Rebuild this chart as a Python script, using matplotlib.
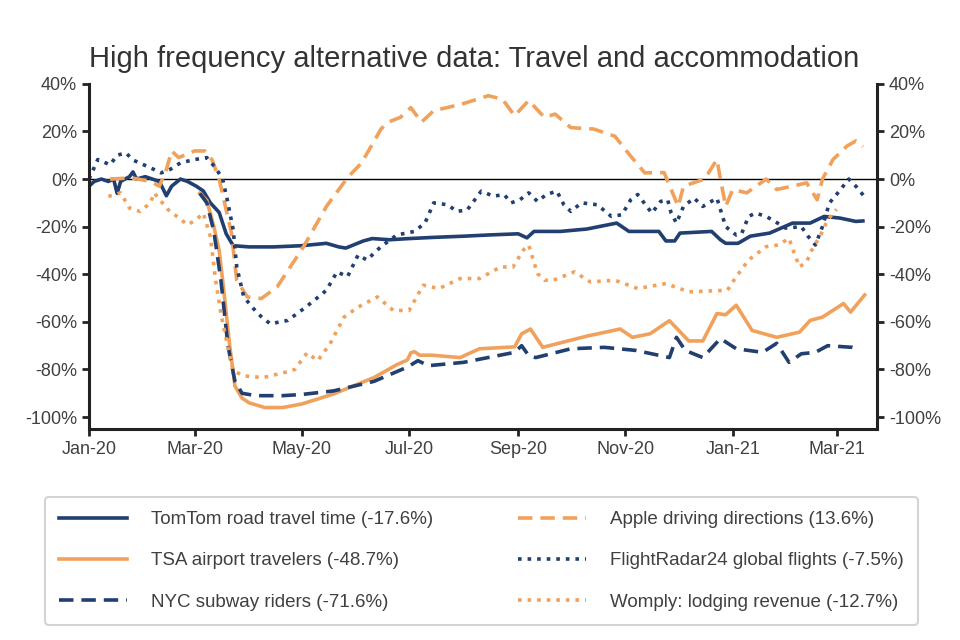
import pandas as pd
import matplotlib
matplotlib.use('Agg')
import matplotlib.pyplot as plt
import matplotlib.dates as mdates
from matplotlib.ticker import FuncFormatter

plt.rcParams['font.family'] = ['Liberation Sans Narrow', 'Liberation Sans', 'DejaVu Sans']

NAVY = '#213f70'
ORANGE = '#f0a25c'
TXT = '#404040'

########################################    Data    #############################################
tomtom_dates = ['2020-01-01', '2020-01-04', '2020-01-08', '2020-01-12', '2020-01-15', '2020-01-17',
                '2020-01-19', '2020-01-24', '2020-01-26', '2020-01-28', '2020-02-02', '2020-02-06',
                '2020-02-10', '2020-02-14', '2020-02-17', '2020-02-22', '2020-02-26', '2020-03-02',
                '2020-03-06', '2020-03-10', '2020-03-15', '2020-03-19', '2020-03-23', '2020-04-01',
                '2020-04-15', '2020-05-01', '2020-05-15', '2020-05-22', '2020-05-26', '2020-06-05',
                '2020-06-10', '2020-06-20', '2020-07-01', '2020-07-15', '2020-08-01', '2020-08-15',
                '2020-09-01', '2020-09-06', '2020-09-10', '2020-09-25', '2020-10-10', '2020-10-27',
                '2020-11-03', '2020-11-20', '2020-11-24', '2020-11-29', '2020-12-02', '2020-12-20',
                '2020-12-25', '2020-12-28', '2021-01-04', '2021-01-11', '2021-01-22', '2021-02-04',
                '2021-02-14', '2021-02-22', '2021-03-03', '2021-03-12', '2021-03-16']
tomtom_vals = [-3, -1, 0, -1, 0, -6,
               -1, 1, 3, 0, 1, 0,
               -1, -7, -3, 0, -1, -3,
               -5, -10, -14, -23, -28, -28.5,
               -28.5, -28, -27, -28.5, -29, -26,
               -25, -25.5, -25, -24.5, -24, -23.5,
               -23, -24.7, -22, -22, -21, -18.5,
               -22, -22, -26, -26, -22.7, -22,
               -25.5, -27, -27, -24, -22.7, -18.5,
               -18.5, -15.7, -16.4, -17.8, -17.6]

tsa_dates = ['2020-03-04', '2020-03-08', '2020-03-12', '2020-03-15', '2020-03-17', '2020-03-21',
             '2020-03-24', '2020-03-28', '2020-04-01', '2020-04-10', '2020-04-20', '2020-05-01',
             '2020-05-19', '2020-06-11', '2020-06-24', '2020-06-30', '2020-07-02', '2020-07-04',
             '2020-07-07', '2020-07-14', '2020-07-30', '2020-08-10', '2020-08-30', '2020-09-03',
             '2020-09-08', '2020-09-15', '2020-10-10', '2020-10-29', '2020-11-05', '2020-11-15',
             '2020-11-26', '2020-12-07', '2020-12-15', '2020-12-23', '2020-12-28', '2021-01-03',
             '2021-01-12', '2021-01-26', '2021-02-08', '2021-02-14', '2021-02-21', '2021-03-05',
             '2021-03-09', '2021-03-17']
tsa_vals = [-6, -9, -20, -30, -42.5, -70,
            -87, -92, -94, -96, -96, -94.5,
            -90.3, -83.4, -78, -76, -73, -72.5,
            -74, -74, -75, -71.3, -70.5, -65,
            -63, -70.7, -66, -63, -66.5, -65,
            -59.5, -68, -68, -56.5, -57, -53,
            -63.6, -66.5, -64.3, -59.4, -58, -52.3,
            -55.9, -48.7]

nyc_dates = ['2020-03-04', '2020-03-08', '2020-03-12', '2020-03-16', '2020-03-20', '2020-03-24',
             '2020-03-28', '2020-04-05', '2020-04-20', '2020-05-01', '2020-05-19', '2020-06-11',
             '2020-06-30', '2020-07-06', '2020-07-12', '2020-08-01', '2020-08-30', '2020-09-03',
             '2020-09-07', '2020-09-11', '2020-10-01', '2020-10-20', '2020-11-07', '2020-11-26',
             '2020-11-30', '2020-12-05', '2020-12-15', '2020-12-25', '2021-01-03', '2021-01-18',
             '2021-01-26', '2021-02-02', '2021-02-09', '2021-02-17', '2021-02-24', '2021-03-10',
             '2021-03-14']
nyc_vals = [-6, -10, -22, -42.5, -70, -85,
            -90, -91, -91, -90.5, -89, -85,
            -79, -76.3, -78.4, -77, -72.8, -70,
            -74.2, -75, -71.3, -70.7, -72, -75,
            -66.5, -72, -75, -67, -71.3, -72.8,
            -69, -77, -73.4, -72.8, -70, -70.7,
            -71.6]

apple_dates = ['2020-01-13', '2020-01-25', '2020-02-05', '2020-02-10', '2020-02-14', '2020-02-17',
               '2020-02-21', '2020-03-01', '2020-03-07', '2020-03-11', '2020-03-15', '2020-03-22',
               '2020-03-25', '2020-03-31', '2020-04-08', '2020-04-17', '2020-05-02', '2020-05-15',
               '2020-05-27', '2020-06-04', '2020-06-15', '2020-06-19', '2020-06-26', '2020-07-02',
               '2020-07-08', '2020-07-15', '2020-07-31', '2020-08-15', '2020-08-23', '2020-08-30',
               '2020-09-07', '2020-09-16', '2020-09-22', '2020-10-01', '2020-10-14', '2020-10-26',
               '2020-11-04', '2020-11-12', '2020-11-23', '2020-11-27', '2020-12-01', '2020-12-04',
               '2020-12-16', '2020-12-23', '2020-12-25', '2020-12-28', '2021-01-01', '2021-01-09',
               '2021-01-20', '2021-01-26', '2021-02-08', '2021-02-12', '2021-02-18', '2021-02-21',
               '2021-02-27', '2021-03-07', '2021-03-12', '2021-03-16']
apple_vals = [0, 0.5, -1, -3, 4, 11.8,
              9, 11.8, 11.8, 8, 0, -22.7,
              -42.5, -49.5, -50.2, -45.3, -28.4, -11.5,
              0.6, 6.8, 21, 23.9, 25.9, 30,
              23.9, 28.7, 31.5, 35, 33.6, 26.6,
              33, 25.9, 27.3, 21.6, 21, 18,
              9.6, 2.6, 2.7, -4.4, -11.5, -3,
              0, 8.2, 0, -11.5, -4.4, -5.8,
              0, -4.4, -2.3, -1.6, -8.7, 0,
              8.2, 13.9, 16, 13.6]

flight_dates = ['2020-01-01', '2020-01-06', '2020-01-13', '2020-01-17', '2020-01-22', '2020-01-26',
                '2020-02-05', '2020-02-11', '2020-02-16', '2020-02-22', '2020-03-01', '2020-03-08',
                '2020-03-13', '2020-03-17', '2020-03-20', '2020-03-23', '2020-03-25', '2020-03-29',
                '2020-04-06', '2020-04-13', '2020-04-23', '2020-05-02', '2020-05-08', '2020-05-15',
                '2020-05-21', '2020-05-27', '2020-06-02', '2020-06-07', '2020-06-15', '2020-06-24',
                '2020-07-04', '2020-07-10', '2020-07-15', '2020-07-23', '2020-07-28', '2020-08-03',
                '2020-08-11', '2020-08-18', '2020-08-24', '2020-08-28', '2020-09-02', '2020-09-07',
                '2020-09-12', '2020-09-17', '2020-09-23', '2020-09-27', '2020-10-01', '2020-10-07',
                '2020-10-16', '2020-10-24', '2020-10-30', '2020-11-04', '2020-11-08', '2020-11-16',
                '2020-11-21', '2020-11-25', '2020-11-27', '2020-11-30', '2020-12-04', '2020-12-10',
                '2020-12-15', '2020-12-23', '2020-12-28', '2021-01-03', '2021-01-06', '2021-01-10',
                '2021-01-14', '2021-01-20', '2021-01-25', '2021-01-31', '2021-02-09', '2021-02-13',
                '2021-02-17', '2021-02-21', '2021-02-25', '2021-03-01', '2021-03-08', '2021-03-12',
                '2021-03-17']
flight_vals = [0, 8.2, 6, 10, 11, 8,
               4.7, 2.6, 4, 6.8, 8.2, 9,
               4.7, 0, -10, -21.4, -36.9, -49.5,
               -56.6, -60.8, -59.4, -54.5, -51, -46.7,
               -39, -41, -31.9, -34, -28.4, -23.5,
               -22, -18.5, -10, -10.8, -13.6, -13,
               -5.1, -7.2, -6.5, -10, -8.7, -5.8,
               -9.4, -6.5, -5.1, -10.8, -13.6, -10,
               -10.8, -15.7, -15, -8.7, -6.5, -14.3,
               -9.4, -8.7, -14.3, -18.5, -11.5, -8,
               -11.5, -8, -20, -23.5, -23, -15.7,
               -14.3, -15.7, -17.8, -20.6, -20, -24.2,
               -27.7, -20, -10, -6.5, 0, -3,
               -7.5]

womply_dates = ['2020-01-12', '2020-01-19', '2020-01-24', '2020-01-30', '2020-02-05', '2020-02-07',
                '2020-02-15', '2020-02-20', '2020-02-26', '2020-03-02', '2020-03-06', '2020-03-10',
                '2020-03-13', '2020-03-16', '2020-03-20', '2020-03-23', '2020-03-29', '2020-04-09',
                '2020-04-21', '2020-04-27', '2020-05-04', '2020-05-10', '2020-05-17', '2020-05-25',
                '2020-06-02', '2020-06-13', '2020-06-22', '2020-07-01', '2020-07-09', '2020-07-18',
                '2020-07-30', '2020-08-10', '2020-08-22', '2020-08-29', '2020-09-04', '2020-09-07',
                '2020-09-09', '2020-09-12', '2020-09-16', '2020-09-21', '2020-10-03', '2020-10-12',
                '2020-10-26', '2020-11-08', '2020-11-24', '2020-12-07', '2020-12-29', '2021-01-03',
                '2021-01-10', '2021-01-20', '2021-01-27', '2021-02-02', '2021-02-05', '2021-02-08',
                '2021-02-12', '2021-02-15', '2021-02-20', '2021-02-24', '2021-03-01']
womply_vals = [-7.3, -5.8, -12.2, -13.6, -10, -5.8,
               -12.9, -15.7, -19.2, -17.1, -14.3, -24.2,
               -42.5, -56.6, -70.7, -80.5, -82.7, -83.4,
               -81.3, -80, -73, -76.3, -69.3, -58,
               -53.8, -49.5, -55.2, -55.2, -44.6, -46,
               -41.8, -41.8, -36.9, -37, -29.8, -27.7,
               -32.6, -39.7, -42.5, -42.5, -39, -43.2,
               -42.5, -46, -43.9, -47.4, -46.7, -41,
               -34, -28.4, -27.7, -24.9, -31.2, -36.9,
               -34.8, -29.8, -23.5, -17.1, -12.7]

labels = ['TomTom road travel time (-17.6%)', 'TSA airport travelers (-48.7%)',
          'NYC subway riders (-71.6%)', 'Apple driving directions (13.6%)',
          'FlightRadar24 global flights (-7.5%)', 'Womply: lodging revenue (-12.7%)']

########################################    Plot    #############################################
fig = plt.figure(figsize=(9.6, 6.4), dpi=100)
ax = fig.add_axes([0.0927, 0.3297, 0.8208, 0.5393])

DASH = (0, (4, 2.2))
lw = 2.6
series = [
    (tomtom_dates, tomtom_vals, NAVY, '-'),
    (tsa_dates, tsa_vals, ORANGE, '-'),
    (nyc_dates, nyc_vals, NAVY, DASH),
    (apple_dates, apple_vals, ORANGE, DASH),
    (flight_dates, flight_vals, NAVY, ':'),
    (womply_dates, womply_vals, ORANGE, ':'),
]
handles = []
for (d, v, c, ls), lab in zip(series, labels):
    h, = ax.plot(pd.to_datetime(d), v, color=c, linestyle=ls, lw=lw, label=lab)
    handles.append(h)

ax.axhline(0, color='black', lw=1, zorder=0)

ax.set_xlim(pd.Timestamp('2020-01-01'), pd.Timestamp('2021-03-24'))
ax.set_ylim(-105, 40)
ax.set_yticks(range(-100, 41, 20))
ax.yaxis.set_major_formatter(FuncFormatter(lambda y, p: '%d%%' % y))
ax.xaxis.set_major_locator(mdates.MonthLocator(bymonth=[1, 3, 5, 7, 9, 11]))
ax.xaxis.set_major_formatter(mdates.DateFormatter('%b-%y'))

ax.spines['top'].set_visible(False)
for s in ['left', 'right', 'bottom']:
    ax.spines[s].set_linewidth(2.2)
    ax.spines[s].set_color('#222222')
ax.tick_params(axis='both', which='major', labelsize=13, labelcolor=TXT, color='#222222',
               width=2, length=5, direction='out')
ax.tick_params(axis='y', right=True, labelright=True)

fig.suptitle('High frequency alternative data: Travel and accommodation',
             x=0.494, y=0.93, fontsize=21, color='#333333')

leg = fig.legend(handles, labels, ncol=2,
                 loc='lower left', bbox_to_anchor=(0.047, 0.024, 0.909, 0.2), mode='expand',
                 borderaxespad=0, fontsize=13.5, frameon=True, fancybox=True, handlelength=3.6,
                 handletextpad=1.3, labelspacing=1.28, borderpad=0.75, columnspacing=2)
leg.get_frame().set_edgecolor('#c8c8c8')
leg.get_frame().set_linewidth(1.5)
for t in leg.get_texts():
    t.set_color(TXT)

fig.savefig('out.png', dpi=100)
